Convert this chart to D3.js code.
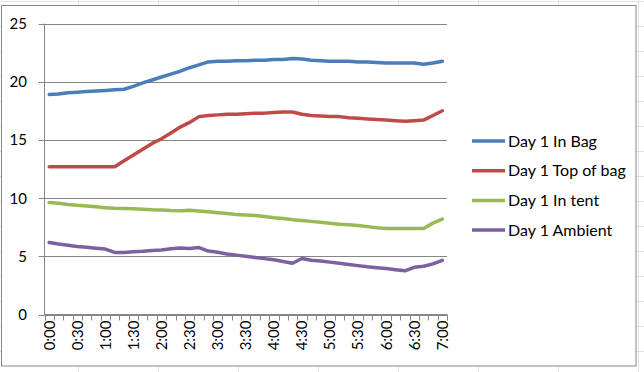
<!DOCTYPE html>
<html>
<head>
<meta charset="utf-8">
<title>Day 1 temperatures</title>
<style>
  body { margin: 0; background: #fff; }
  text { font-family: 'Lato', 'Liberation Sans', sans-serif; fill: #000; }
  .grid line { stroke: #868686; stroke-width: 1; }
  .cell { stroke: #e3e3e3; stroke-width: 1; }
</style>
</head>
<body>
<script src="https://cdn.jsdelivr.net/npm/d3@7"></script>
<script>
var width = 644, height = 372;

// categories, every 10 minutes
var times = ["0:00","0:10","0:20","0:30","0:40","0:50","1:00","1:10","1:20","1:30",
             "1:40","1:50","2:00","2:10","2:20","2:30","2:40","2:50","3:00","3:10",
             "3:20","3:30","3:40","3:50","4:00","4:10","4:20","4:30","4:40","4:50",
             "5:00","5:10","5:20","5:30","5:40","5:50","6:00","6:10","6:20","6:30",
             "6:40","6:50","7:00"];
var tickLabels = ["0:00","0:30","1:00","1:30","2:00","2:30","3:00","3:30",
                  "4:00","4:30","5:00","5:30","6:00","6:30","7:00"];
var yTicks = [0, 5, 10, 15, 20, 25];

var inBag = [18.9,18.95,19.05,19.1,19.15,19.2,19.25,19.3,19.35,19.6,
             19.9,20.15,20.4,20.65,20.9,21.2,21.45,21.7,21.75,21.75,
             21.8,21.8,21.85,21.85,21.9,21.9,22.0,21.95,21.85,21.8,
             21.75,21.75,21.75,21.7,21.7,21.65,21.6,21.6,21.6,21.6,
             21.5,21.6,21.75];
var topOfBag = [12.7,12.7,12.7,12.7,12.7,12.7,12.7,12.7,13.2,13.7,
                14.2,14.7,15.1,15.6,16.1,16.5,17.0,17.1,17.15,17.2,
                17.2,17.25,17.3,17.3,17.35,17.4,17.4,17.2,17.1,17.05,
                17.0,17.0,16.9,16.85,16.8,16.75,16.7,16.65,16.6,16.65,
                16.7,17.1,17.5];
var inTent = [9.62,9.55,9.45,9.38,9.33,9.25,9.18,9.12,9.1,9.08,
              9.05,9.0,8.98,8.94,8.92,8.95,8.9,8.82,8.75,8.68,
              8.6,8.55,8.5,8.42,8.32,8.25,8.15,8.08,8.0,7.92,
              7.83,7.76,7.72,7.65,7.55,7.45,7.39,7.39,7.39,7.39,
              7.39,7.85,8.2];
var ambient = [6.19,6.05,5.95,5.85,5.78,5.7,5.62,5.33,5.33,5.4,
               5.44,5.5,5.55,5.65,5.72,5.68,5.75,5.45,5.35,5.2,
               5.1,5.0,4.9,4.8,4.7,4.55,4.4,4.81,4.66,4.6,
               4.5,4.4,4.3,4.2,4.1,4.02,3.95,3.85,3.75,4.05,
               4.15,4.35,4.66];

var seriesNames = ["Day 1 In Bag", "Day 1 Top of bag", "Day 1 In tent", "Day 1 Ambient"];
var seriesColors = ["#4a7ebb", "#be4b48", "#98b954", "#7d60a0"];
var seriesValues = [inBag, topOfBag, inTent, ambient];

var svg = d3.select("body").append("svg")
    .attr("width", width)
    .attr("height", height);

// spreadsheet cells behind the chart
var cells = svg.append("g");
cells.selectAll("line.col").data(d3.range(78.5, width, 80)).enter()
    .append("line").attr("class", "cell")
    .attr("x1", function(d) { return d; }).attr("x2", function(d) { return d; })
    .attr("y1", 0).attr("y2", height);
cells.selectAll("line.row").data(d3.range(1.5, height, 25)).enter()
    .append("line").attr("class", "cell")
    .attr("x1", 0).attr("x2", width)
    .attr("y1", function(d) { return d; }).attr("y2", function(d) { return d; });

// chart area
svg.append("rect")
    .attr("x", 1.5).attr("y", 5.5)
    .attr("width", 634.5).attr("height", 360.5)
    .attr("fill", "#fff")
    .attr("stroke", "#868686");

var plotLeft = 44.5, plotRight = 447, plotTop = 23.5, plotBottom = 314.5;

var x = d3.scaleBand().domain(times).range([plotLeft, plotRight]).paddingInner(0).paddingOuter(0);
var y = d3.scaleLinear().domain([0, 25]).range([plotBottom, plotTop]);

function cx(c) { return x(c) + x.bandwidth() / 2; }

// horizontal gridlines + y ticks
svg.append("g").attr("class", "grid")
    .selectAll("line").data(yTicks).enter().append("line")
    .attr("x1", plotLeft - 6).attr("x2", plotRight)
    .attr("y1", function(d) { return Math.round(y(d)) + 0.5; })
    .attr("y2", function(d) { return Math.round(y(d)) + 0.5; });

svg.append("g").selectAll("text").data(yTicks).enter().append("text")
    .attr("x", 27)
    .attr("y", function(d) { return y(d); })
    .attr("dy", "0.36em")
    .attr("text-anchor", "end")
    .style("font-size", "15px")
    .text(function(d) { return d; });

// y axis line
svg.append("line")
    .attr("x1", plotLeft).attr("x2", plotLeft)
    .attr("y1", plotTop).attr("y2", plotBottom)
    .attr("stroke", "#868686");

// x axis with category tick marks
var xb = times.map(function(c) { return x(c); }).concat([plotRight]);
svg.append("g").selectAll("line").data(xb).enter().append("line")
    .attr("x1", function(d) { return Math.round(d) + 0.5; })
    .attr("x2", function(d) { return Math.round(d) + 0.5; })
    .attr("y1", plotBottom).attr("y2", plotBottom + 6)
    .attr("stroke", "#868686");
svg.append("line")
    .attr("x1", plotLeft).attr("x2", plotRight)
    .attr("y1", plotBottom).attr("y2", plotBottom)
    .attr("stroke", "#868686");

svg.append("g").selectAll("text").data(tickLabels).enter().append("text")
    .attr("transform", function(d) { return "translate(" + cx(d) + "," + (plotBottom + 6) + ") rotate(-90)"; })
    .attr("dy", "0.36em")
    .attr("text-anchor", "end")
    .style("font-size", "15px")
    .text(function(d) { return d; });

// series lines
var line = d3.line()
    .x(function(d, i) { return cx(times[i]); })
    .y(function(d) { return y(d); });

svg.append("g").selectAll("path").data(seriesValues).enter().append("path")
    .attr("d", line)
    .attr("fill", "none")
    .attr("stroke", function(d, i) { return seriesColors[i]; })
    .attr("stroke-width", 3.5)
    .attr("stroke-linejoin", "round")
    .attr("stroke-linecap", "round");

// legend
var legend = svg.append("g").selectAll("g").data(seriesNames).enter().append("g")
    .attr("transform", function(d, i) { return "translate(472," + (141 + i * 29.7) + ")"; });
legend.append("line")
    .attr("x1", 0).attr("x2", 33)
    .attr("stroke", function(d, i) { return seriesColors[i]; })
    .attr("stroke-width", 3.5);
legend.append("text")
    .attr("x", 36)
    .attr("dy", "0.36em")
    .style("font-size", "16px")
    .text(function(d) { return d; });
</script>
</body>
</html>
